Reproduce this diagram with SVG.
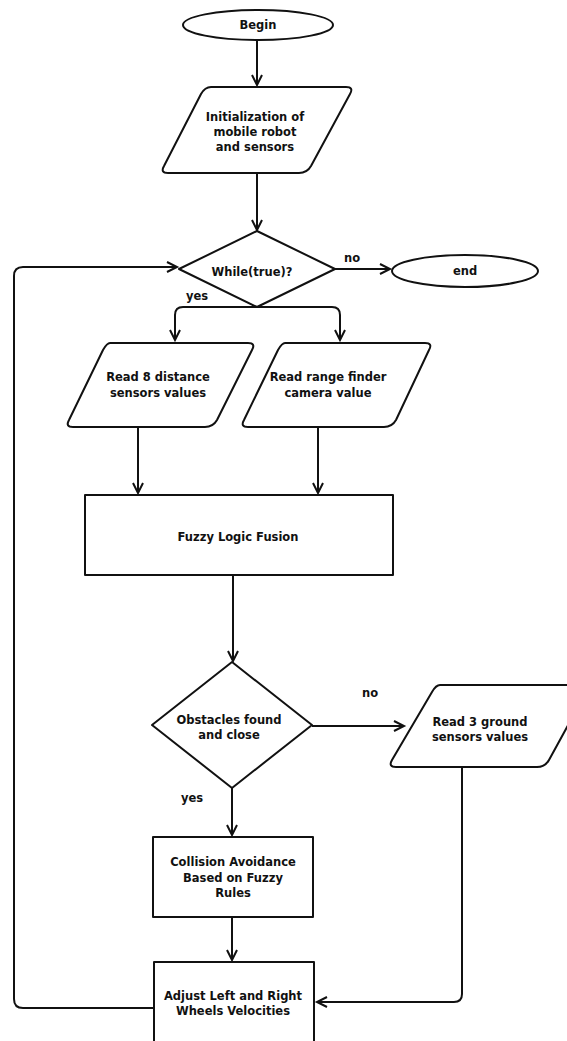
<svg xmlns="http://www.w3.org/2000/svg" width="567" height="1041" viewBox="0 0 567 1041">
<style>
.s{fill:#fff;stroke:#111;stroke-width:2;stroke-linejoin:round}
.c{fill:none;stroke:#111;stroke-width:2}
text{font-family:"DejaVu Sans","Liberation Sans",sans-serif;font-weight:bold;font-size:11.5px;fill:#111;text-anchor:middle}
</style>
<defs>
<marker id="a" markerWidth="14" markerHeight="14" refX="11" refY="6" orient="auto" markerUnits="userSpaceOnUse">
<path d="M1,1 L11,6 L1,11" fill="none" stroke="#111" stroke-width="2"/>
</marker>
</defs>
<rect width="567" height="1041" fill="#fff"/>
<g id="connectors">
<path class="c" d="M257,40 V85" marker-end="url(#a)"/>
<path class="c" d="M257,174 V230" marker-end="url(#a)"/>
<path class="c" d="M335,269 H390" marker-end="url(#a)"/>
<path class="c" d="M257,307 H183 Q175,307 175,315 V340" marker-end="url(#a)"/>
<path class="c" d="M257,307 H332 Q340,307 340,315 V340" marker-end="url(#a)"/>
<path class="c" d="M138,428 V493" marker-end="url(#a)"/>
<path class="c" d="M318,428 V493" marker-end="url(#a)"/>
<path class="c" d="M233,575 V661" marker-end="url(#a)"/>
<path class="c" d="M312,726 H404" marker-end="url(#a)"/>
<path class="c" d="M232,788 V835" marker-end="url(#a)"/>
<path class="c" d="M232,917 V960" marker-end="url(#a)"/>
<path class="c" d="M462,768 V994 Q462,1002 454,1002 H317" marker-end="url(#a)"/>
<path class="c" d="M154,1008 H23 Q14,1008 14,999 V276 Q14,267 23,267 H177" marker-end="url(#a)"/>
</g>
<g id="begin">
<ellipse class="s" cx="258" cy="25" rx="75" ry="15"/>
<text x="258" y="29">Begin</text>
</g>
<g id="init">
<path class="s" d="M211,87 H346 Q354,87 350,94 L311,166 Q307,173 299,173 H168 Q160,173 164,166 L201,94 Q205,87 211,87 Z"/>
<text x="255" y="121">Initialization of</text>
<text x="255" y="136">mobile robot</text>
<text x="255" y="151">and sensors</text>
</g>
<g id="while">
<path class="s" d="M257,231 L335,269 L257,307 L179,269 Z"/>
<text x="252" y="276">While(true)?</text>
<text x="352" y="262">no</text>
<text x="197" y="300">yes</text>
</g>
<g id="end">
<ellipse class="s" cx="465" cy="271" rx="73" ry="16"/>
<text x="465" y="275">end</text>
</g>
<g id="read8">
<path class="s" d="M110,343 H248 Q256,343 252,350 L217,420 Q213,427 205,427 H73 Q65,427 69,420 L103,350 Q107,343 110,343 Z"/>
<text x="158" y="381">Read 8 distance</text>
<text x="158" y="397">sensors values</text>
</g>
<g id="readcam">
<path class="s" d="M285,343 H425 Q433,343 429,350 L396,420 Q392,427 384,427 H248 Q240,427 244,420 L278,350 Q282,343 285,343 Z"/>
<text x="328" y="381">Read range finder</text>
<text x="328" y="397">camera value</text>
</g>
<g id="fusion">
<rect class="s" x="85" y="495" width="308" height="80"/>
<text x="238" y="541">Fuzzy Logic Fusion</text>
</g>
<g id="obstacles">
<path class="s" d="M232,662 L312,725 L232,788 L152,725 Z"/>
<text x="229" y="724">Obstacles found</text>
<text x="229" y="739">and close</text>
<text x="370" y="697">no</text>
<text x="192" y="802">yes</text>
</g>
<g id="ground">
<path class="s" d="M440,685 H590 L549,760 Q545,767 537,767 H396 Q388,767 392,760 L432,692 Q436,685 440,685 Z"/>
<text x="480" y="726">Read 3 ground</text>
<text x="480" y="741">sensors values</text>
</g>
<g id="collision">
<rect class="s" x="153" y="837" width="160" height="80"/>
<text x="233" y="866">Collision Avoidance</text>
<text x="233" y="882">Based on Fuzzy</text>
<text x="233" y="897">Rules</text>
</g>
<g id="adjust">
<rect class="s" x="154" y="962" width="160" height="90"/>
<text x="233" y="1000">Adjust Left and Right</text>
<text x="233" y="1015">Wheels Velocities</text>
</g>
</svg>
